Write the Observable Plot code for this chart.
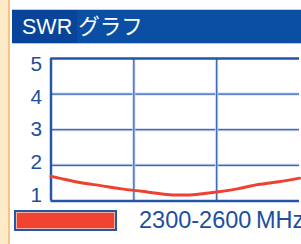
<!DOCTYPE html>
<html>
<head>
<meta charset="utf-8">
<script src="https://cdn.jsdelivr.net/npm/d3@7"></script>
<script src="https://cdn.jsdelivr.net/npm/@observablehq/plot@0.6"></script>
<style>
  html, body { margin: 0; padding: 0; width: 301px; height: 244px; overflow: hidden; background: #fff; }
  body { position: relative; font-family: "Liberation Sans", Arial, "Noto Sans CJK JP", sans-serif; }
  #strip { position: absolute; left: 0; top: 0; width: 8px; height: 244px; background: #fdebc8; }
  #stripline { position: absolute; left: 8px; top: 0; width: 2px; height: 244px; background: #f8c384; }
  #titlebar { position: absolute; left: 12px; top: 9px; width: 289px; height: 33px; background: #0a4fa3;
              border-top: 1px solid #c4cbe8; border-bottom: 1px solid #b8c4e4; }
  #titledark { position: absolute; left: 0; top: 0; width: 65px; height: 33px; background: #07449a; }
  #titletext { position: absolute; left: 10px; top: 4px; font-size: 21.5px; line-height: 26px; color: #fff; white-space: nowrap; }
  #chart { position: absolute; left: 0; top: 48px; }
  #swatch { position: absolute; left: 14px; top: 210px; width: 99px; height: 17px; background: #f04331;
            border: 2px solid #2456a8; box-shadow: inset 0 0 0 1px #f5b0a4; }
  #legtext { position: absolute; left: 139px; top: 207px; font-size: 23.5px; line-height: 26px; word-spacing: -2px;
             color: #1d4f9e; white-space: nowrap; }
</style>
</head>
<body>
<div id="strip"></div>
<div id="stripline"></div>
<div id="titlebar"><div id="titledark"></div><div id="titletext"></div></div>
<div id="chart"></div>
<div id="swatch"></div>
<div id="legtext"></div>
<script>
const title = "SWR グラフ";
const legendLabel = "2300-2600 MHz";
const freqs = [2300, 2310, 2335, 2360, 2385, 2410, 2430, 2450, 2465, 2485, 2500, 2525, 2550, 2575, 2600];
const swr   = [1.69, 1.64, 1.52, 1.43, 1.34, 1.27, 1.21, 1.17, 1.17, 1.21, 1.25, 1.34, 1.46, 1.54, 1.64];
const yTicks = [1, 2, 3, 4, 5];
const xDomain = [2300, 2600];
const xGrid = [2400, 2500];

document.getElementById("titletext").textContent = title;
document.getElementById("legtext").textContent = legendLabel;

const data = freqs.map((f, i) => ({f, v: swr[i]}));
const blue = "#2456a8";
const grid = "#3d6ab8";

const chart = Plot.plot({
  width: 304,
  height: 156,
  marginLeft: 51,
  marginRight: 2,
  marginTop: 10,
  marginBottom: 2,
  x: {domain: xDomain, axis: null},
  y: {domain: [1, 5], axis: null},
  style: {background: "transparent", overflow: "visible"},
  marks: [
    Plot.ruleY([2, 3, 4], {stroke: "#c9d5ee", strokeWidth: 3}),
    Plot.ruleY([2, 3, 4], {stroke: grid, strokeWidth: 1.3}),
    Plot.ruleX(xGrid, {stroke: "#c9d5ee", strokeWidth: 3}),
    Plot.ruleX(xGrid, {stroke: grid, strokeWidth: 1.3}),
    Plot.ruleY([1, 5], {stroke: blue, strokeWidth: 2.5}),
    Plot.ruleX([xDomain[0]], {stroke: blue, strokeWidth: 2.5}),
    Plot.line(data, {x: "f", y: "v", stroke: "#f04030", strokeWidth: 3, curve: "monotone-x"}),
    Plot.text(yTicks, {
      x: xDomain[0],
      y: d => 3 + (d - 3) * 0.915,
      text: d => String(d),
      dx: -9,
      textAnchor: "end",
      fill: "#1d4f9e",
      fontSize: 21,
      fontFamily: "Liberation Sans, Arial, sans-serif"
    })
  ]
});
document.getElementById("chart").appendChild(chart);
</script>
</body>
</html>
